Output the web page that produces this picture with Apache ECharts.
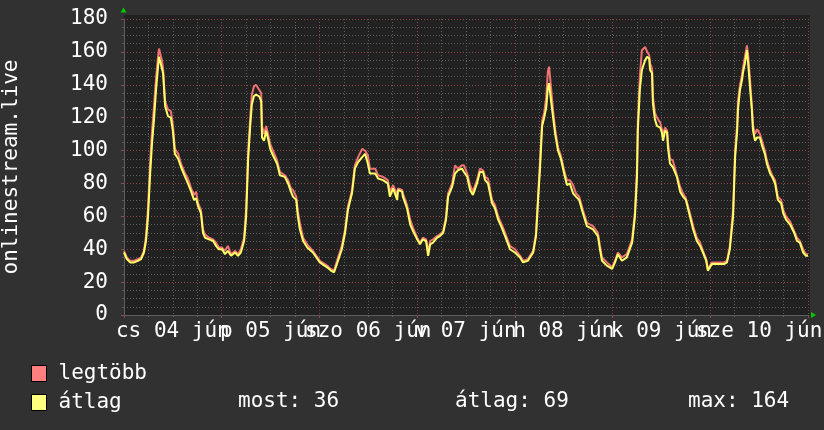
<!DOCTYPE html>
<html>
<head>
<meta charset="utf-8">
<script src="https://cdn.jsdelivr.net/npm/echarts@6/dist/echarts.min.js"></script>
<style>
html,body{margin:0;padding:0;background:#313131;}
#c{width:824px;height:430px;}
</style>
</head>
<body>
<div id="c"></div>
<script>
// time offset in hours from the start of "cs 04 jún"
const hours = [0,0.7,1.5,2.5,3.4,4.2,4.9,5.4,5.9,6.4,6.9,7.4,7.9,8.4,8.6,8.8,9.3,9.6,10.1,10.8,11.5,12.0,12.5,13.3,14.0,15.0,15.7,16.5,17.2,17.7,18.2,18.9,19.4,19.9,20.9,21.9,22.6,23.3,
24.1,24.8,25.5,26.3,27.3,28.0,28.7,29.5,30.0,30.5,31.0,31.4,31.9,32.4,33.2,33.7,33.9,34.4,34.9,35.4,35.9,36.6,37.6,38.3,39.5,40.3,41.0,41.5,42.3,42.7,43.2,44.0,45.0,46.4,
48.1,49.9,50.8,51.6,52.3,53.5,54.3,55.0,56.0,56.7,57.5,58.5,59.2,59.9,60.4,61.7,62.4,63.6,64.8,65.3,66.1,67.1,67.3,68.3,68.5,69.5,70.3,71.0,
72.0,72.7,73.4,74.2,74.7,75.2,75.9,76.9,77.6,78.4,79.1,79.6,80.6,81.3,82.0,83.0,83.5,84.3,85.0,85.7,86.7,87.4,88.2,88.7,89.4,90.4,91.1,91.9,92.8,93.6,94.8,
96.0,97.3,98.0,99.2,100.5,101.2,101.7,102.2,102.7,103.2,103.7,104.1,104.4,104.9,105.4,105.9,106.6,107.3,108.1,108.8,109.5,110.3,111.0,111.8,112.7,113.7,115.2,116.4,116.9,117.4,118.6,
119.9,120.6,121.3,122.3,123.5,124.8,125.5,126.0,126.2,126.7,127.2,128.0,128.5,129.0,129.2,129.7,129.9,130.4,130.9,131.7,132.1,132.4,132.9,133.4,133.6,134.1,134.8,135.8,136.6,137.3,138.0,139.0,139.8,140.7,141.5,142.2,143.0,
143.4,144.4,145.9,147.4,148.1,148.8,149.6,150.1,150.6,150.8,151.3,151.8,152.0,152.5,153.0,153.3,153.8,154.2,154.5,155.0,155.5,156.2,156.7,157.4,157.9,158.7,159.2,159.9,160.6,161.4,161.9,162.6,163.6,164.6,165.3,166.0,166.8,167.5,168.0];

const legtobb = [39,35,33,33,34,35,39,48,65,92,112,128,145,158,162,160,155,150,130,125,124,116,101,98,92,86,83,77,73,75,68,64,52,49,47,46,44,41,
41,39,42,37,39,37,40,47,65,100,120,134,139,140,137,135,115,110,115,110,104,100,94,87,85,82,77,76,72,63,56,47,43,39,
33,30,28,27,33,42,52,66,76,91,96,101,100,97,89,89,85,84,82,75,79,73,77,76,74,67,58,53,
47,44,47,46,38,45,46,48,49,51,60,74,80,91,89,91,91,86,79,75,82,89,88,84,83,70,67,60,55,50,42,
40,36,33,34,39,50,72,95,118,123,132,148,151,138,124,113,102,97,88,82,82,79,74,72,64,56,54,50,42,35,32,
29,33,38,35,37,46,63,90,118,145,161,163,160,158,153,150,133,123,120,117,113,110,114,112,105,95,94,85,78,74,71,62,54,47,44,39,34,
28,32,32,32,33,42,64,100,116,130,140,146,150,157,164,158,142,128,115,110,113,110,106,100,94,88,85,82,72,70,64,60,57,51,47,45,40,37,37];

const atlag = [38,34,32,32,33,34,38,45,60,85,105,120,138,152,157,155,150,147,127,121,120,112,98,95,90,84,80,75,70,71,66,62,50,47,46,45,42,40,
40,37,39,36,38,36,38,45,60,95,115,128,133,134,133,130,108,106,112,107,101,97,92,85,84,80,75,72,70,60,52,45,41,38,
32,29,27,26,31,40,50,64,74,89,93,96,98,92,86,86,83,82,80,72,77,70,76,75,72,65,55,51,
46,43,46,45,36,43,44,47,48,50,58,72,78,86,88,89,87,84,76,73,80,87,87,82,80,68,65,58,53,48,40,
38,35,32,33,38,48,70,90,115,120,126,138,141,130,120,110,100,95,86,79,80,74,72,70,62,54,52,48,40,33,30,
28,32,37,33,35,44,60,84,112,137,149,155,157,156,149,147,129,119,115,114,111,106,112,111,102,92,90,84,75,72,70,60,52,45,42,38,33,
27,31,31,31,32,40,60,96,112,125,137,143,147,153,161,153,137,125,112,106,108,108,103,98,92,86,84,80,70,68,62,58,55,50,45,44,38,36,36];

const dayLabels = ['cs 04 jún','p 05 jún','szo 06 jún','v 07 jún','h 08 jún','k 09 jún','sze 10 jún'];
const yTicks = [0,20,40,60,80,100,120,140,160,180];
const seriesNames = ['legtöbb','átlag'];
const statLabels = ['most','átlag','max'];
const statValues = [36,69,164];

const FONT = '"DejaVu Sans Mono", monospace';
const FS = 21;
const chart = echarts.init(document.getElementById('c'), null, {renderer:'canvas'});
const majorLine = {show:true, lineStyle:{color:'#8a4646', type:[1,2], width:1}};
const minorLine = {show:true, lineStyle:{color:'#5c5c5c', type:[1,2], width:1}};

chart.setOption({
  backgroundColor:'#313131',
  animation:false,
  textStyle:{fontFamily:FONT},
  grid:{left:124, right:16, top:19, bottom:115, show:true, backgroundColor:'#212121', borderWidth:0, outerBoundsMode:'none', containLabel:false},
  graphic:[
    {type:'rect', silent:true, shape:{x:124, y:15, width:686, height:4}, style:{fill:'#212121'}},
    {type:'rect', silent:true, shape:{x:808, y:15, width:2, height:300}, style:{fill:'#212121'}},
    {type:'polygon', z:100, silent:true, shape:{points:[[120.5,12.5],[126.5,12.5],[123.5,7.5]]}, style:{fill:'#00cc00'}},
    {type:'polygon', z:100, silent:true, shape:{points:[[811,312],[811,318],[816,315]]}, style:{fill:'#00cc00'}},
    {type:'text', left:238, top:391, silent:true, style:{text:statLabels[0]+': '+statValues[0], fill:'#ffffff', font:FS+'px '+FONT}},
    {type:'text', left:455, top:391, silent:true, style:{text:statLabels[1]+': '+statValues[1], fill:'#ffffff', font:FS+'px '+FONT}},
    {type:'text', left:688, top:391, silent:true, style:{text:statLabels[2]+': '+statValues[2], fill:'#ffffff', font:FS+'px '+FONT}}
  ],
  legend:{
    orient:'vertical', left:31, top:363, padding:0,
    itemWidth:15, itemHeight:16, itemGap:8, icon:'rect',
    selectedMode:false,
    itemStyle:{borderColor:'#000', borderWidth:1},
    textStyle:{color:'#ffffff', fontFamily:FONT, fontSize:FS, padding:[0,0,0,7]},
    data:seriesNames
  },
  xAxis:[
    {
      type:'value', min:0, max:168, interval:24, position:'bottom',
      axisLine:{show:true, lineStyle:{color:'#5e5e5e', width:1}},
      axisTick:{show:true, length:3, lineStyle:{color:'#8a4a4a'}},
      minorTick:{show:true, splitNumber:4, length:2, lineStyle:{color:'#5e5e5e'}},
      axisLabel:{show:false},
      splitLine:majorLine,
      minorSplitLine:minorLine
    },
    {
      type:'category', data:dayLabels, position:'bottom', boundaryGap:true,
      axisLine:{show:false}, axisTick:{show:false}, splitLine:{show:false},
      axisLabel:{show:true, interval:0, color:'#ffffff', fontFamily:FONT, fontSize:FS, margin:6, hideOverlap:false}
    }
  ],
  yAxis:{
    type:'value', min:yTicks[0], max:yTicks[yTicks.length-1], interval:yTicks[1]-yTicks[0],
    name:'onlinestream.live', nameLocation:'middle', nameGap:102, nameRotate:90,
    nameTextStyle:{color:'#ffffff', fontFamily:FONT, fontSize:FS},
    axisLine:{show:true, lineStyle:{color:'#5e5e5e', width:1}},
    axisTick:{show:true, length:3, lineStyle:{color:'#8a4a4a'}},
    minorTick:{show:true, splitNumber:4, length:2, lineStyle:{color:'#5e5e5e'}},
    axisLabel:{color:'#ffffff', fontFamily:FONT, fontSize:FS, margin:16},
    splitLine:majorLine,
    minorSplitLine:minorLine
  },
  series:[
    {name:seriesNames[0], type:'line', xAxisIndex:0, showSymbol:false, symbol:'none', smooth:false,
     color:'#ff7f7f', lineStyle:{color:'#f07272', width:2}, z:3,
     data:hours.map((h,i)=>[h, legtobb[i]])},
    {name:seriesNames[1], type:'line', xAxisIndex:0, showSymbol:false, symbol:'none', smooth:false,
     color:'#ffff7f', lineStyle:{color:'#ffff66', width:2}, z:4,
     data:hours.map((h,i)=>[h, atlag[i]])}
  ]
});
</script>
</body>
</html>
